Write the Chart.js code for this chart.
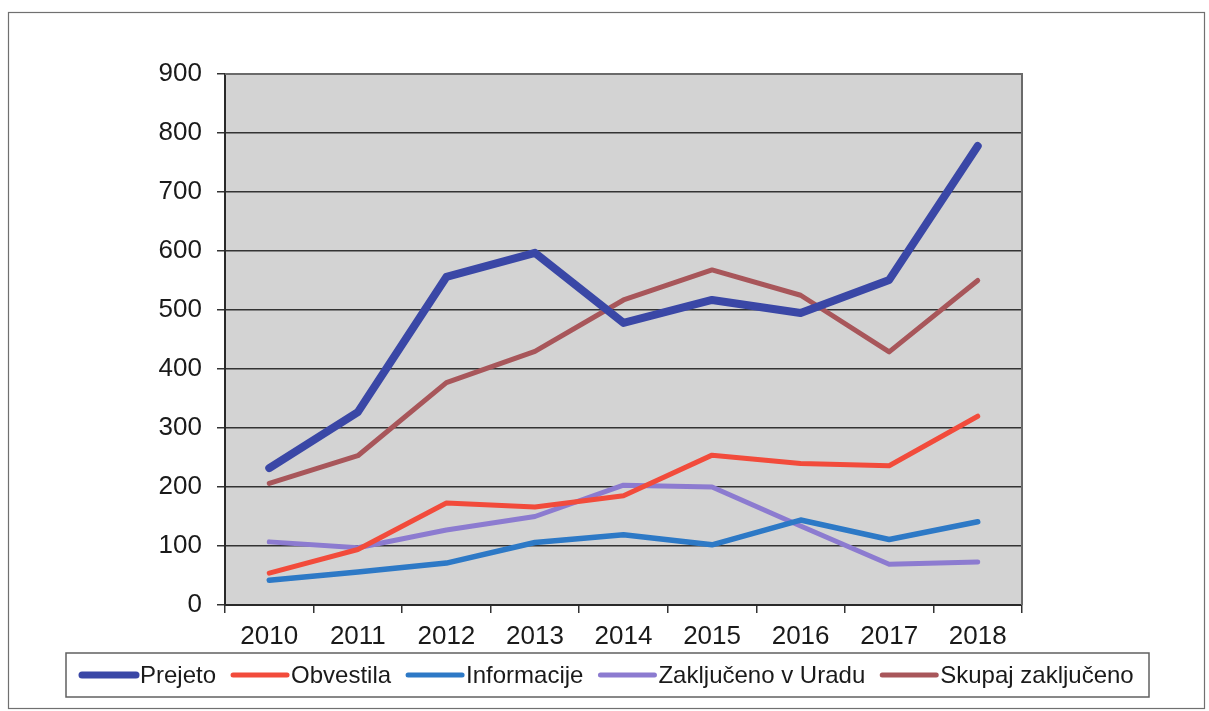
<!DOCTYPE html>
<html>
<head>
<meta charset="utf-8">
<script src="https://cdn.jsdelivr.net/npm/chart.js@4"></script>
<style>
  html, body { margin: 0; padding: 0; background: #fff; }
  canvas { display: block; }
</style>
</head>
<body>
<canvas id="chart" width="1209" height="711"></canvas>
<script>
const years = ['2010', '2011', '2012', '2013', '2014', '2015', '2016', '2017', '2018'];
const prejeto = [232, 327, 556, 597, 478, 517, 495, 551, 778];
const obvestila = [54, 94, 173, 166, 185, 254, 240, 236, 320];
const informacije = [42, 56, 71, 106, 119, 102, 144, 111, 141];
const zakljuceno_urad = [107, 97, 127, 150, 203, 200, 134, 69, 73];
const skupaj_zakljuceno = [206, 253, 377, 430, 517, 568, 525, 429, 550];
const y_ticks = [0, 100, 200, 300, 400, 500, 600, 700, 800, 900];

const font_family = "'Liberation Sans', Arial, sans-serif";

const series = [
    { label: 'Prejeto', data: prejeto, color: '#3a47a6', width: 8 },
    { label: 'Obvestila', data: obvestila, color: '#f24b3b', width: 5 },
    { label: 'Informacije', data: informacije, color: '#2d79c6', width: 5.5 },
    { label: 'Zaključeno v Uradu', data: zakljuceno_urad, color: '#8c7bd0', width: 5 },
    { label: 'Skupaj zaključeno', data: skupaj_zakljuceno, color: '#a8565a', width: 5 }
];

// page frame, grey plot fill and the plot's top/right edges
const frame = {
    id: 'frame',
    beforeDraw: (chart) => {
        const {ctx, chartArea} = chart;
        ctx.save();
        ctx.fillStyle = '#ffffff';
        ctx.fillRect(0, 0, chart.width, chart.height);
        ctx.strokeStyle = '#707070';
        ctx.lineWidth = 1.2;
        ctx.strokeRect(8.5, 12.5, 1196, 696);
        ctx.fillStyle = '#d3d3d3';
        ctx.fillRect(chartArea.left, chartArea.top, chartArea.right - chartArea.left, chartArea.bottom - chartArea.top);
        ctx.restore();
    },
    afterDatasetsDraw: (chart) => {
        const {ctx, chartArea} = chart;
        ctx.save();
        ctx.strokeStyle = '#6a6a6a';
        ctx.lineWidth = 2;
        ctx.beginPath();
        ctx.moveTo(chartArea.left, chartArea.top);
        ctx.lineTo(chartArea.right, chartArea.top);
        ctx.lineTo(chartArea.right, chartArea.bottom);
        ctx.stroke();
        ctx.restore();
    }
};

// boxed legend under the axis
const boxedLegend = {
    id: 'boxedLegend',
    afterDraw: (chart) => {
        const {ctx} = chart;
        ctx.save();
        ctx.strokeStyle = '#606060';
        ctx.lineWidth = 1.5;
        ctx.strokeRect(66, 653, 1083, 44);
        ctx.font = '24px ' + font_family;
        ctx.textBaseline = 'middle';
        ctx.fillStyle = '#1a1a1a';
        let x = 82;
        const y = 675;
        chart.data.datasets.forEach(ds => {
            ctx.strokeStyle = ds.borderColor;
            ctx.lineWidth = ds.borderWidth > 6 ? 7 : 5;
            ctx.lineCap = 'round';
            ctx.beginPath();
            ctx.moveTo(x, y);
            ctx.lineTo(x + 54, y);
            ctx.stroke();
            ctx.fillText(ds.label, x + 58, y + 1);
            x += 58 + ctx.measureText(ds.label).width + 17;
        });
        ctx.restore();
    }
};

new Chart(document.getElementById('chart'), {
    type: 'line',
    data: {
        labels: years,
        datasets: series.map(s => ({
            label: s.label,
            data: s.data,
            borderColor: s.color,
            backgroundColor: s.color,
            borderWidth: s.width,
            borderCapStyle: 'round',
            borderJoinStyle: 'round',
            pointRadius: 0,
            tension: 0,
            fill: false
        }))
    },
    options: {
        responsive: false,
        animation: false,
        layout: {
            padding: { left: 0, top: 74, right: 187, bottom: 56 }
        },
        plugins: {
            legend: { display: false },
            tooltip: { enabled: false }
        },
        scales: {
            x: {
                offset: true,
                grid: {
                    offset: true,
                    drawOnChartArea: false,
                    drawTicks: true,
                    tickLength: 8,
                    color: '#333333',
                    lineWidth: 1.5
                },
                border: { color: '#2a2a2a', width: 2 },
                ticks: {
                    color: '#1a1a1a',
                    padding: 8,
                    maxRotation: 0,
                    font: { family: font_family, size: 26 }
                },
                afterFit: (scale) => { scale.height = 50; }
            },
            y: {
                min: 0,
                max: 900,
                afterBuildTicks: (scale) => {
                    scale.ticks = y_ticks.map(v => ({ value: v }));
                },
                grid: {
                    color: '#333333',
                    lineWidth: 1.5,
                    drawTicks: true,
                    tickLength: 8
                },
                border: { color: '#2a2a2a', width: 2 },
                ticks: {
                    color: '#1a1a1a',
                    padding: 15,
                    font: { family: font_family, size: 26 }
                },
                afterFit: (scale) => { scale.width = 225; }
            }
        }
    },
    plugins: [frame, boxedLegend]
});
</script>
</body>
</html>
